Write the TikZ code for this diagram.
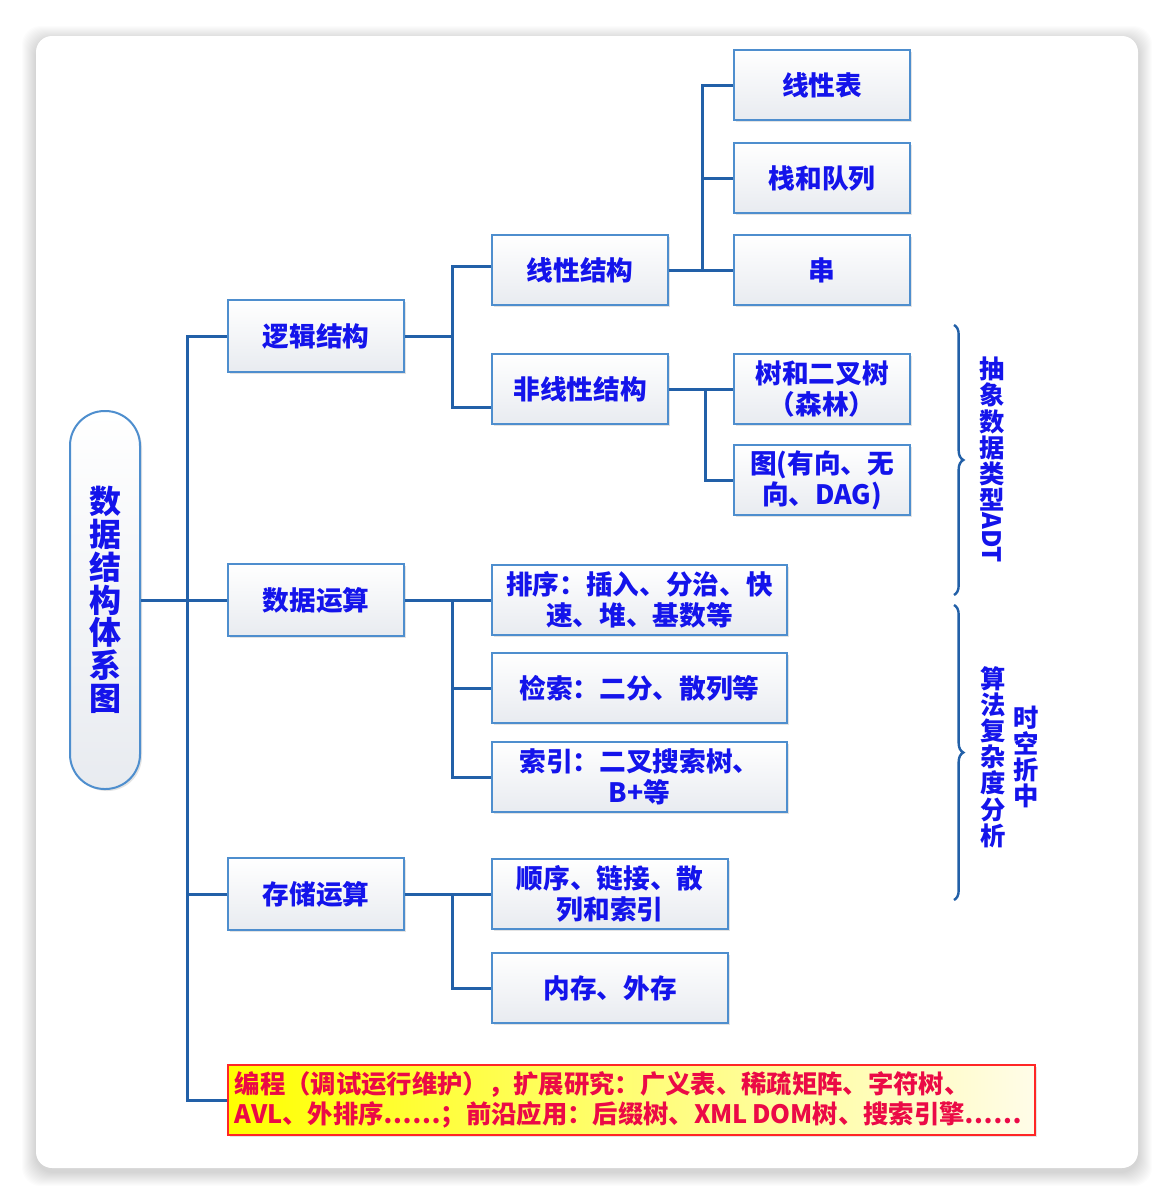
\documentclass[tikz,border=0pt]{standalone}
\usepackage{fontspec}
\setmainfont{Noto Sans CJK SC}
\usetikzlibrary{shadows,decorations.pathreplacing,calc}
\definecolor{lnblue}{RGB}{34,96,168}
\definecolor{bdblue}{RGB}{78,142,206}
\definecolor{txblue}{RGB}{20,20,235}
\definecolor{txred}{RGB}{235,10,70}
\definecolor{boxbot}{RGB}{232,235,240}
\definecolor{paleyel}{RGB}{255,252,232}
\tikzset{
  box/.style={draw=bdblue, line width=1.5pt, top color=white, bottom color=boxbot,
    drop shadow={shadow xshift=1.5pt, shadow yshift=-1.5pt, opacity=0.22},
    inner sep=2pt, align=center, text=txblue,
    font=\fontsize{20}{23}\selectfont\bfseries},
  lvbox/.style={box, minimum width=132pt, minimum height=53pt},
  widebox/.style={box, minimum width=221pt, minimum height=53pt},
  midbox/.style={box, minimum width=177pt, minimum height=53pt},
  conn/.style={draw=lnblue, line width=2.25pt},
  bracestyle/.style={draw=lnblue, line width=1.8pt, decorate,
    decoration={brace, amplitude=7pt}},
  sidetext/.style={text=txblue, align=center, inner sep=0pt,
    font=\fontsize{19}{19.6}\selectfont\bfseries},
}
\begin{document}
\begin{tikzpicture}[x=0.75pt,y=-0.75pt]
\useasboundingbox (0,0) rectangle (1174,1204);
\fill[white] (0,0) rectangle (1174,1204);
% card shadow
\foreach \d in {1,...,14}{
  \fill[black, opacity=0.011, rounded corners=14pt] (36-\d,36-\d+4) rectangle (1138+\d,1168+\d+4);
}
\fill[white, rounded corners=12pt] (36,36) rectangle (1138,1168);

% root
\node[box, rounded corners=26pt, minimum width=52.5pt, minimum height=283.5pt,
  font=\fontsize{24}{24.6}\selectfont\bfseries] (root) at (105,600)
  {数\\据\\结\\构\\体\\系\\图};

% level 1
\node[lvbox, minimum height=54pt] (L1a) at (316,336) {逻辑结构};
\node[lvbox, minimum height=54pt] (L1b) at (316,600) {数据运算};
\node[lvbox, minimum height=54pt] (L1c) at (316,894) {存储运算};

% level 2
\node[lvbox] (L2a) at (580,270) {线性结构};
\node[lvbox] (L2b) at (580,389) {非线性结构};

% level 3
\node[lvbox] (L3a) at (822,85) {线性表};
\node[lvbox] (L3b) at (822,178) {栈和队列};
\node[lvbox] (L3c) at (822,270) {串};
\node[lvbox] (L3d) at (822,389) {树和二叉树\\（森林）};
\node[lvbox] (L3e) at (822,480) {图(有向、无\\向、DAG)};

\node[widebox] (S1) at (639.5,600) {排序：插入、分治、快\\速、堆、基数等};
\node[widebox] (S2) at (639.5,688) {检索：二分、散列等};
\node[widebox] (S3) at (639.5,777) {索引：二叉搜索树、\\B+等};

\node[midbox] (M1) at (610,894) {顺序、链接、散\\列和索引};
\node[midbox] (M2) at (610,988) {内存、外存};

% bottom box
\node[draw=red!85, line width=1.3pt, left color=yellow, right color=paleyel,
  text width=595pt, inner xsep=5pt, inner ysep=3pt, minimum height=52pt,
  align=left, text=txred, font=\fontsize{19}{22.5}\selectfont\bfseries,
  drop shadow={shadow xshift=1.5pt, shadow yshift=-1.5pt, opacity=0.2}] (bot) at (631.5,1100)
  {编程（调试运行维护），扩展研究：广义表、稀疏矩阵、字符树、\\AVL、外排序……；前沿应用：后缀树、XML\,DOM树、搜索引擎……};

% connectors
\coordinate (tA) at (187,600);
\draw[conn] (root.east) -- (tA);
\draw[conn] (L1a.west) -| (tA |- bot.west) -- (bot.west);
\draw[conn] (L1b.west) -- (L1b.west -| tA);
\draw[conn] (L1c.west) -- (L1c.west -| tA);

\coordinate (tB) at (452,336);
\coordinate (L2bin) at ($(L2b.west)+(0,18)$);
\coordinate (L2ain) at ($(L2a.west)+(0,-4)$);
\draw[conn] (L1a.east) -- (tB);
\draw[conn] (L2ain) -| (tB |- L2bin) -- (L2bin);

\coordinate (tC) at (702,270);
\draw[conn] (L3a.west) -| (tC);
\draw[conn] (L2a.east) -- (L3c.west);
\draw[conn] (L3b.west) -- (L3b.west -| tC);

\coordinate (tD) at (705,389);
\draw[conn] (L2b.east) -- (L3d.west);
\draw[conn] (L3e.west) -| (tD);

\coordinate (tE) at (452,600);
\draw[conn] (L1b.east) -- (S1.west);
\draw[conn] (S3.west) -| (tE);
\draw[conn] (S2.west) -- (S2.west -| tE);

\coordinate (tF) at (452,894);
\draw[conn] (L1c.east) -- (M1.west);
\draw[conn] (M2.west) -| (tF);

% braces
\coordinate (bA1) at (954,325);
\coordinate (bA2) at (954,595);
\coordinate (bB1) at (954,605);
\coordinate (bB2) at (954,900);
\draw[bracestyle] (bA1) -- (bA2);
\draw[bracestyle] (bB1) -- (bB2);

\node[sidetext] (adt) at (992,460) {抽\\象\\数\\据\\类\\型\\\rotatebox[origin=c]{-90}{ADT}};
\node[sidetext] (alg) at (993,757) {算\\法\\复\\杂\\度\\分\\析};
\node[sidetext] (st) at (1026,757) {时\\空\\折\\中};
\end{tikzpicture}
\end{document}
